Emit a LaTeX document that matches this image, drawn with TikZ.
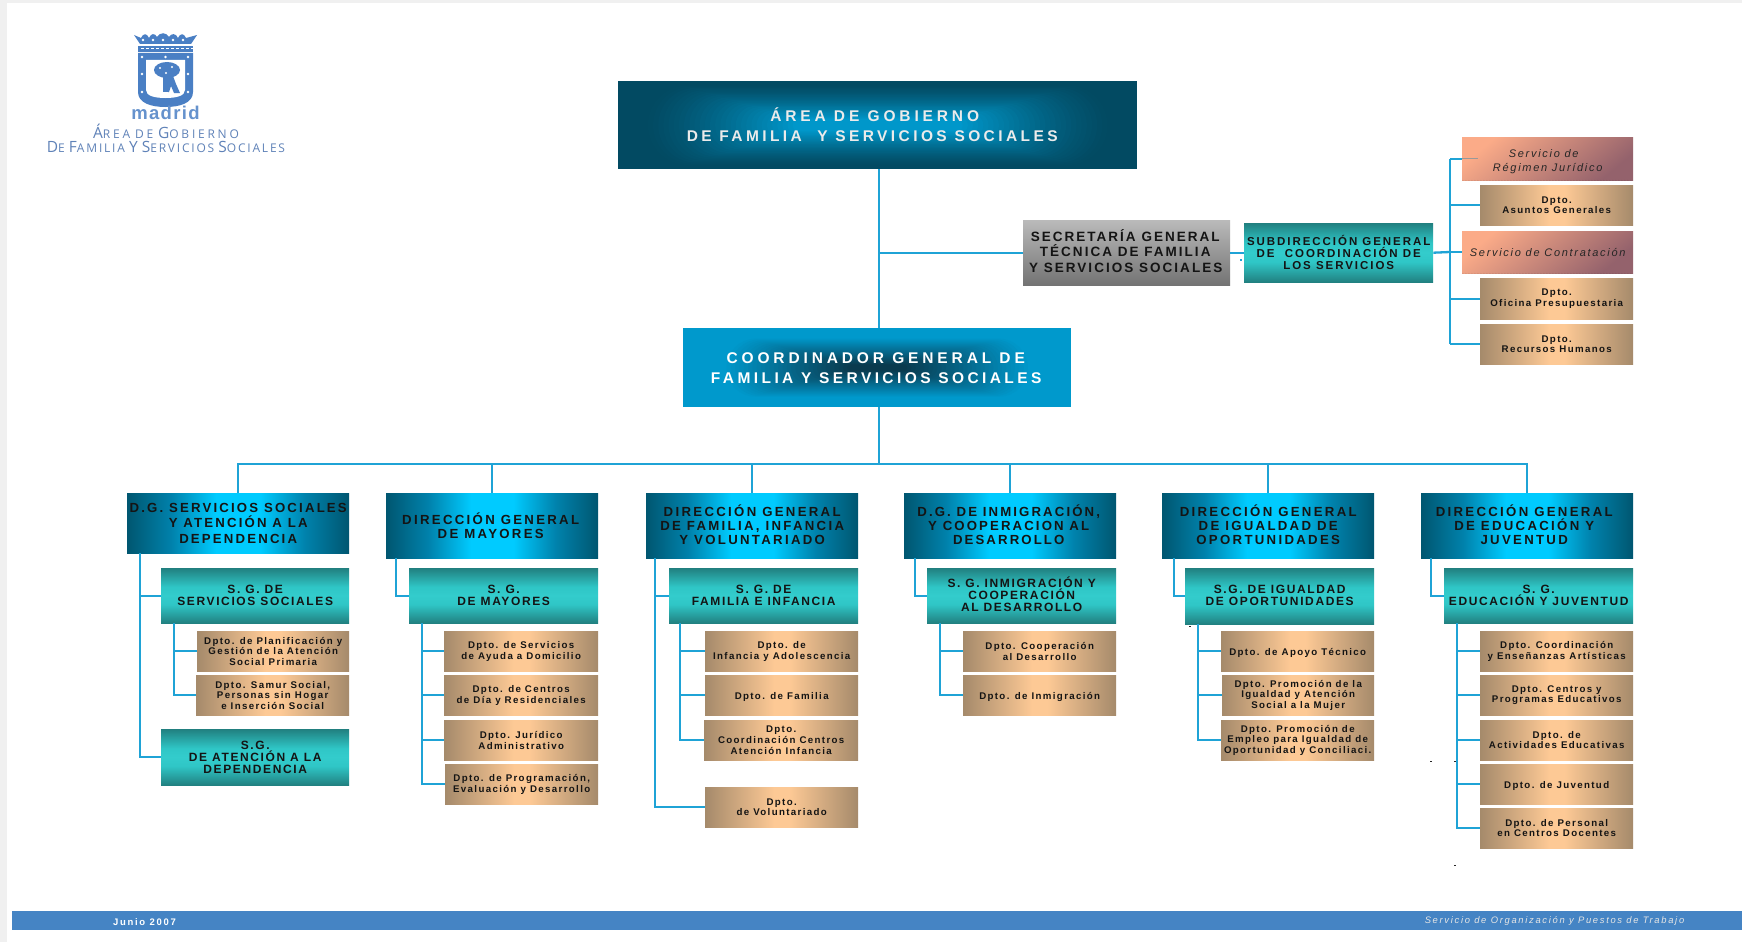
\documentclass[tikz,border=0pt]{standalone}
\usepackage{fontspec}
\usetikzlibrary{calc,shadings}
\setmainfont{Liberation Sans}
\newfontfamily\topf[LetterSpace=22]{Liberation Sans}
\newfontfamily\topfa[LetterSpace=25]{Liberation Sans}
\newfontfamily\dgf[LetterSpace=17.5]{Liberation Sans}
\newfontfamily\dgfa[LetterSpace=16.5]{Liberation Sans}
\newfontfamily\dgfb[LetterSpace=16]{Liberation Sans}
\newfontfamily\sgf[LetterSpace=13.5]{Liberation Sans}
\newfontfamily\secf[LetterSpace=15]{Liberation Sans}
\newfontfamily\subf[LetterSpace=17]{Liberation Sans}
\newfontfamily\dptf[LetterSpace=14]{Liberation Sans}
\newfontfamily\svcf[LetterSpace=15.5]{Liberation Sans}
\newfontfamily\footf[LetterSpace=18]{Liberation Sans}
\newfontfamily\madf[LetterSpace=7]{Liberation Sans}
\newfontfamily\logof[LetterSpace=15]{Open Sans}
\newfontfamily\logofb[LetterSpace=23]{Open Sans}
\newcommand\lsc[2]{{\fontsize{15.5}{18}\selectfont #1}{\fontsize{12}{18}\selectfont #2}}
\newcommand\trail[1]{\rule{#1pt}{0pt}}
\definecolor{linec}{HTML}{1FA3D6}
\definecolor{barc}{HTML}{4584C4}
\definecolor{dga}{HTML}{005670}
\definecolor{dgb}{HTML}{0082AC}
\definecolor{dgc}{HTML}{00CBFF}
\definecolor{sga}{HTML}{218080}
\definecolor{sgb}{HTML}{2FC6C6}
\definecolor{sgc}{HTML}{33CCCC}
\definecolor{dpa}{HTML}{A58A6B}
\definecolor{dpb}{HTML}{FDC995}
\definecolor{logoc}{HTML}{4A7FC4}
\definecolor{logot}{HTML}{5F82B8}
\definecolor{topdark}{HTML}{024A62}
\definecolor{topglow}{HTML}{0097CA}
\definecolor{corblue}{HTML}{0099CC}
\definecolor{cordark}{HTML}{0A3A4E}
\definecolor{svca}{HTML}{FBAB88}
\definecolor{svcb}{HTML}{94626C}
\pgfdeclarehorizontalshading{dgshade}{100bp}{color(0bp)=(dga); color(25bp)=(dga); color(35bp)=(dgb); color(45bp)=(dgc); color(55bp)=(dgc); color(65bp)=(dgb); color(75bp)=(dga); color(100bp)=(dga)}
\pgfdeclareverticalshading{sgshade}{100bp}{color(0bp)=(sga); color(25bp)=(sga); color(42bp)=(sgb); color(50bp)=(sgc); color(58bp)=(sgb); color(75bp)=(sga); color(100bp)=(sga)}
\pgfdeclarehorizontalshading{dptshade}{100bp}{color(0bp)=(dpa); color(25bp)=(dpa); color(47.5bp)=(dpb); color(52.5bp)=(dpb); color(75bp)=(dpa); color(100bp)=(dpa)}
\tikzset{
  x=1pt,y=-1pt,
  boxbase/.style={anchor=north west,inner sep=0pt,align=center},
  topbox/.style={boxbase,fill=topdark,text=white!92!black,font=\topf\bfseries\fontsize{15.5}{20}\selectfont,
    path picture={\foreach \k in {0,...,29}{\pgfmathsetmacro\fr{\k/29}\pgfmathsetmacro\hw{235-150*\fr}\pgfmathsetmacro\hh{41-35*\fr}\pgfmathsetmacro\mx{100*\fr^1.3}
      \fill[topglow!\mx!topdark,rounded corners=\hh pt] ($(path picture bounding box.center)+(-\hw,-\hh)$) rectangle ($(path picture bounding box.center)+(\hw,\hh)$);}}},
  coordbox/.style={boxbase,fill=corblue,text=white,font=\topf\bfseries\fontsize{15.5}{20}\selectfont,
    path picture={\foreach \k in {0,...,29}{\pgfmathsetmacro\fr{\k/29}\pgfmathsetmacro\hw{155-125*\fr}\pgfmathsetmacro\hh{30-27*\fr}\pgfmathsetmacro\mx{100*\fr}
      \fill[cordark!\mx!corblue,rounded corners=\hh pt] ($(path picture bounding box.center)+(-\hw,-\hh)$) rectangle ($(path picture bounding box.center)+(\hw,\hh)$);}}},
  dgbox/.style={boxbase,shade,shading=dgshade,text=black!92,font=\dgf\bfseries\fontsize{13.2}{14}\selectfont},
  sgbox/.style={boxbase,shade,shading=sgshade,text=black!92,font=\sgf\bfseries\fontsize{12}{12}\selectfont},
  dptbox/.style={boxbase,shade,shading=dptshade,text=black!92,font=\dptf\bfseries\fontsize{9.7}{10.6}\selectfont},
  secbox/.style={boxbase,shade,top color=black!27,bottom color=black!55,text=black!92,font=\secf\bfseries\fontsize{13.5}{15.5}\selectfont},
  subbox/.style={boxbase,shade,shading=sgshade,text=black!92,font=\subf\bfseries\fontsize{11.5}{12}\selectfont},
  svcbox/.style={boxbase,shade,top color=svca,bottom color=svcb,shading angle=40,text=black!85,font=\svcf\itshape\fontsize{11}{14.2}\selectfont,
    path picture={\foreach \i in {-60,-57,...,240}{\draw[black,opacity=.07,line width=.8pt] ([xshift=\i pt]path picture bounding box.south west) -- ++(60pt,-30pt);}}},
  conn/.style={draw=linec,line width=2.3pt,line join=miter},
  speck/.style={fill=black!85,draw=none}
}
\newcommand\bx[7]{\node[#1,minimum width={(#5-#3)*1pt},minimum height={(#6-#4)*1pt}] (#2) at (#3,#4) {#7};}
\begin{document}
\begin{tikzpicture}
\useasboundingbox (0,0) rectangle (1742,942);
\fill[white] (0,0) rectangle (1742,942);
\fill[black!6] (0,0) rectangle (7,942);
\fill[black!6] (0,0) rectangle (1742,3);
% footer
\fill[barc] (12,911) rectangle (1742,930);
\node[text=white,inner sep=0pt,font=\footf\bfseries\fontsize{9.5}{10}\selectfont] (fl) at (144.5,922.5) {Junio 2007};
\node[text=white!90!black,inner sep=0pt,font=\footf\itshape\fontsize{9.4}{10}\selectfont] (fr) at (1554.5,921) {Servicio de Organización y Puestos de Trabajo};
% logo
\fill[logoc] (134,35) -- (141,38) .. controls (143,33) and (147,33) .. (149,38) .. controls (151,33) and (155,33) .. (157,37) .. controls (160,32) and (166,32) .. (169,37) .. controls (171,33) and (176,33) .. (178,38) .. controls (180,33) and (184,33) .. (186,38) -- (197,35) -- (191,44) -- (140,44) -- cycle;
\foreach \i in {143,153,...,183}{\fill[white] (\i,40) circle (1.3pt);}
\fill[logoc] (138,46) rectangle (193,52);
\foreach \i in {141,146,...,191}{\fill[white] (\i,48) rectangle ++(2.5,1.5);}
\fill[logoc] (138,53) -- (193,53) -- (193,92) .. controls (193,103) and (180,107) .. (165.5,107) .. controls (151,107) and (138,103) .. (138,92) -- cycle;
\fill[white] (146,60) -- (185,60) -- (185,90) .. controls (185,96) and (176,98) .. (165.5,98) .. controls (155,98) and (146,96) .. (146,90) -- cycle;
\foreach \a/\b in {142/57,188/57,142/74,188/74,142/92,188/92,165.5/57}{\fill[white] (\a,\b) circle (1.4pt);}
\fill[logoc] (167,70) ellipse [x radius=13pt,y radius=8pt];
\fill[white] (160,68) circle (1.2pt) (172,67) circle (1.2pt) (166,73) circle (1.2pt);
\fill[logoc] (163,75) rectangle (168,92);
\fill[logoc] (168,76) -- (173,76) -- (176,84) -- (180,93) -- (174,93) -- (171,86) -- (169,92) -- (168,92) -- cycle;
\node[text=logoc!85!white,inner sep=0pt,font=\madf\bfseries\fontsize{18.5}{18}\selectfont] (lm) at (165.5,113) {madrid};
\node[text=logot,inner sep=0pt,font=\logofb] (l1) at (166,131) {\lsc{Á}{REA} \lsc{}{DE} \lsc{G}{OBIERNO}};
\node[text=logot,inner sep=0pt,font=\logof] (l2) at (166,147) {\lsc{D}{E} \lsc{F}{AMILIA} \lsc{Y}{} \lsc{S}{ERVICIOS} \lsc{S}{OCIALES}};
% top boxes
\bx{topbox}{top}{618}{81}{1137}{169}{{\topfa ÁREA DE GOBIERNO}\trail{6}\\DE FAMILIA\ \ Y SERVICIOS SOCIALES\trail{11}\\[-18pt]}
\bx{coordbox}{cor}{683}{328}{1071}{407}{{\topfa COORDINADOR GENERAL DE}\trail{3}\\FAMILIA Y SERVICIOS SOCIALES\trail{2}}
\bx{secbox}{sec}{1023}{220}{1230}{285}{SECRETARÍA GENERAL\trail{3}\\TÉCNICA DE FAMILIA\trail{3}\\Y SERVICIOS SOCIALES\trail{2}\\[-11.5pt]}
\bx{subbox}{sub}{1244}{223}{1433}{282}{SUBDIRECCIÓN GENERAL\\DE\ \ COORDINACIÓN DE\\LOS SERVICIOS\\[-11pt]}
\bx{svcbox}{jur}{1462}{137}{1633}{180}{Servicio de\trail{8}\\Régimen Jurídico\\[-17.2pt]}
\bx{dptbox}{ag}{1480}{185}{1633}{225}{Dpto.\\Asuntos Generales}
\bx{svcbox}{con}{1462}{231}{1633}{273}{Servicio de Contratación}
\bx{dptbox}{opr}{1480}{278}{1633}{319}{Dpto.\\Oficina Presupuestaria}
\bx{dptbox}{rh}{1480}{324}{1633}{364}{Dpto.\\Recursos Humanos}
% column 1
\bx{dgbox,font=\dgfa\bfseries\fontsize{13.2}{15.7}\selectfont}{dga1}{127}{493}{349}{553}{D.G. SERVICIOS SOCIALES\\Y ATENCIÓN A LA\\DEPENDENCIA}
\bx{sgbox}{sga1}{161}{568}{349}{623}{S. G. DE\\SERVICIOS SOCIALES}
\bx{dptbox}{d1a}{197}{631}{349}{671}{Dpto. de Planificación y\\Gestión de la Atención\\Social Primaria}
\bx{dptbox}{d1b}{196}{675}{349}{715}{Dpto. Samur Social,\\Personas sin Hogar\\e Inserción Social}
\bx{sgbox}{sga1b}{161}{729}{349}{785}{S.G.\\DE ATENCIÓN A LA\\DEPENDENCIA}
% column 2
\bx{dgbox}{dga2}{386}{493}{598}{558}{DIRECCIÓN GENERAL\trail{3}\\DE MAYORES\trail{3}\\[-13pt]}
\bx{sgbox}{sga2}{409}{568}{598}{623}{S. G.\\DE MAYORES}
\bx{dptbox}{d2a}{444}{631}{598}{671}{Dpto. de Servicios\\de Ayuda a Domicilio}
\bx{dptbox}{d2b}{444}{675}{598}{715}{Dpto. de Centros\\de Día y Residenciales}
\bx{dptbox}{d2c}{444}{720}{598}{760}{Dpto. Jurídico\\Administrativo}
\bx{dptbox}{d2d}{445}{764}{598}{804}{Dpto. de Programación,\\Evaluación y Desarrollo}
% column 3
\bx{dgbox}{dga3}{646}{493}{858}{558}{DIRECCIÓN GENERAL\\DE FAMILIA, INFANCIA\\Y VOLUNTARIADO\\[-11pt]}
\bx{sgbox}{sga3}{669}{568}{858}{623}{S. G. DE\\FAMILIA E INFANCIA}
\bx{dptbox}{d3a}{705}{631}{858}{671}{Dpto. de\\Infancia y Adolescencia}
\bx{dptbox}{d3b}{705}{675}{858}{715}{Dpto. de Familia\\[-12.6pt]}
\bx{dptbox}{d3c}{704}{720}{858}{760}{Dpto.\\Coordinación Centros\\Atención Infancia}
\bx{dptbox}{d3d}{705}{787}{858}{827}{Dpto.\\de Voluntariado}
% column 4
\bx{dgbox,font=\dgfb\bfseries\fontsize{13.2}{14}\selectfont}{dga4}{904}{493}{1116}{558}{D.G. DE INMIGRACIÓN,\trail{3}\\Y COOPERACION AL\trail{3}\\DESARROLLO\trail{3}\\[-11pt]}
\bx{sgbox}{sga4}{927}{568}{1116}{623}{S. G. INMIGRACIÓN Y\\COOPERACIÓN\\AL DESARROLLO\\[-9pt]}
\bx{dptbox}{d4a}{963}{631}{1116}{671}{Dpto. Cooperación\\al Desarrollo}
\bx{dptbox}{d4b}{963}{675}{1116}{715}{Dpto. de Inmigración\\[-12.6pt]}
% column 5
\bx{dgbox}{dga5}{1162}{493}{1374}{558}{DIRECCIÓN GENERAL\\DE IGUALDAD DE\\OPORTUNIDADES\\[-11pt]}
\bx{sgbox}{sga5}{1185}{568}{1374}{624}{S.G. DE IGUALDAD\\DE OPORTUNIDADES\\[-10pt]}
\bx{dptbox}{d5a}{1221}{631}{1374}{671}{Dpto. de Apoyo Técnico\\[-12.6pt]}
\bx{dptbox}{d5b}{1222}{675}{1374}{715}{Dpto. Promoción de la\\Igualdad y Atención\\Social a la Mujer}
\bx{dptbox}{d5c}{1221}{720}{1374}{760}{Dpto. Promoción de\\Empleo para Igualdad de\\Oportunidad y Conciliaci.}
% column 6
\bx{dgbox}{dga6}{1421}{493}{1633}{558}{DIRECCIÓN GENERAL\trail{6}\\DE EDUCACIÓN Y\trail{6}\\JUVENTUD\trail{6}\\[-11pt]}
\bx{sgbox}{sga6}{1444}{568}{1633}{623}{S. G.\\EDUCACIÓN Y JUVENTUD}
\bx{dptbox}{d6a}{1480}{631}{1633}{671}{Dpto. Coordinación\\y Enseñanzas Artísticas}
\bx{dptbox}{d6b}{1480}{675}{1633}{715}{Dpto. Centros y\\Programas Educativos}
\bx{dptbox}{d6c}{1480}{720}{1633}{760}{Dpto. de\\Actividades Educativas}
\bx{dptbox}{d6d}{1480}{764}{1633}{804}{Dpto. de Juventud\\[-12.6pt]}
\bx{dptbox}{d6e}{1480}{808}{1633}{848}{Dpto. de Personal\\en Centros Docentes}
% connectors
\coordinate (bus) at (879,464);
\coordinate (spine) at (1450,252);
\draw[conn] (top.south -| bus) -- (cor.north -| bus);
\draw[conn] (cor.south -| bus) -- (bus);
\draw[conn] (bus |- sec.west) -- (sec.west);
\draw[conn] (sec.east) -- (sub.west);
\draw[conn] (sub.east) -- (spine);
\foreach \n in {dga1,dga2,dga3,dga4,dga5,dga6}{\draw[conn] (bus) -| (\n.north);}
\draw[conn] (spine |- jur.west) -- (spine |- rh.west);
\foreach \n in {jur,ag,con,opr,rh}{\draw[conn] (spine |- \n.west) -- (\n.west);}
\draw[black!40,line width=1.2pt] (jur.west) -- ++(16,0);
\foreach \p/\o/\t in {
  dga1/12.7/sga1,dga1/12.7/sga1b,sga1/12.7/d1a,sga1/12.7/d1b,
  dga2/10/sga2,sga2/13/d2a,sga2/13/d2b,sga2/13/d2c,sga2/13/d2d,
  dga3/9/sga3,dga3/9/d3d,sga3/11/d3a,sga3/11/d3b,sga3/11/d3c,
  dga4/11/sga4,sga4/13/d4a,sga4/13/d4b,
  dga5/12/sga5,sga5/13/d5a,sga5/13/d5b,sga5/13/d5c,
  dga6/10/sga6,sga6/13/d6a,sga6/13/d6b,sga6/13/d6c,sga6/13/d6d,sga6/13/d6e}
  {\draw[conn] ([xshift=\o pt]\p.south west) |- (\t.west);}
% specks
\foreach \a/\b in {1189/626,1430/761,1454/761,1454/865}{\fill[speck] (\a,\b) rectangle ++(2.2,1.2);}
\fill[linec] (1240,259) rectangle ++(1.6,1.6);
\end{tikzpicture}
\end{document}
